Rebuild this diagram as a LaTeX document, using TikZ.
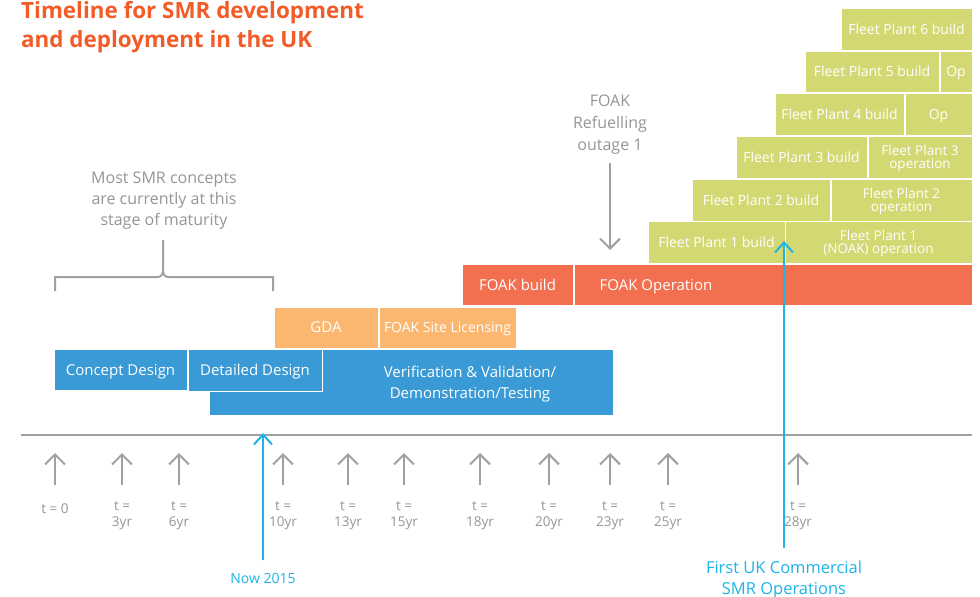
\documentclass[tikz,border=0pt]{standalone}
\usepackage{fontspec}
\setmainfont{Open Sans}
\usetikzlibrary{arrows.meta,calc}
\definecolor{cblue}{RGB}{58,154,214}
\definecolor{clorange}{RGB}{251,183,111}
\definecolor{cred}{RGB}{242,112,80}
\definecolor{cgreen}{RGB}{211,216,115}
\definecolor{ctitle}{RGB}{241,92,40}
\definecolor{cgtext}{RGB}{150,150,152}
\definecolor{cgline}{RGB}{160,160,164}
\definecolor{ccyan}{RGB}{30,180,232}
\tikzset{
  blk/.style={draw=white, line width=1pt, text=white, inner sep=0pt, align=center,
    text depth=0pt, font=\fontsize{15}{17}\selectfont},
  gblk/.style={blk, font=\fontsize{14}{16}\selectfont},
  g2blk/.style={blk, font=\fontsize{13.5}{12.5}\selectfont},
  gtxt/.style={text=cgtext, align=center, inner sep=0pt},
  tlbl/.style={gtxt, font=\fontsize{13.5}{16}\selectfont},
  garr/.style={draw=cgline, line width=2pt, -{Straight Barb[length=10pt,width=20pt,line width=2pt]}},
  carr/.style={draw=ccyan, line width=2pt, -{Straight Barb[length=10pt,width=18pt,line width=2pt]}},
  ctxt/.style={text=ccyan, align=center, inner sep=0pt},
}
\newcommand\blk[8]{\node[#6, fill=#7, minimum width={(#4-#2)*1pt}, minimum height={(#5-#3)*1pt}] (#1) at ({(#2+#4)/2},{(#3+#5)/2}) {#8};}
\begin{document}
\begin{tikzpicture}[x=1pt,y=-1pt]
\useasboundingbox[fill=white] (0,0) rectangle (980,597);
% title
\node[anchor=base west, inner sep=0pt, text=ctitle, font=\fontsize{22.4}{28}\selectfont\bfseries] (title1) at (21,19) {Timeline for SMR development};
\node[anchor=base west, inner sep=0pt, text=ctitle, font=\fontsize{22.4}{28}\selectfont\bfseries] (title2) at (21,47) {and deployment in the UK};
% blue blocks
\blk{vv}{209}{349}{613}{415}{blk}{cblue}{}
\node[blk, fill=none, draw=none, text depth=] (vvtxt) at (470,384) {Verification \& Validation/\\[4pt]Demonstration/Testing};
\blk{concept}{54}{349}{187}{390}{blk}{cblue}{Concept Design}
\blk{detailed}{188}{349}{322}{391}{blk}{cblue}{Detailed Design}
% orange blocks
\blk{gda}{274}{307}{378}{348}{blk}{clorange}{GDA}
\blk{site}{379}{307}{516}{348}{gblk}{clorange}{FOAK Site Licensing}
% red blocks
\blk{foakb}{462}{264}{573}{305}{blk}{cred}{FOAK build}
\blk{foako}{574}{264}{972}{305}{blk}{cred}{}
\node[blk, draw=none] (foakotxt) at (656,285) {FOAK Operation};
% green blocks
\blk{fp1b}{648}{221}{785}{263}{gblk}{cgreen}{Fleet Plant 1 build}
\blk{fp1o}{785}{221}{972}{263}{g2blk}{cgreen}{Fleet Plant 1\\(NOAK) operation}
\blk{fp2b}{692}{179}{830}{221}{gblk}{cgreen}{Fleet Plant 2 build}
\blk{fp2o}{831}{179}{972}{221}{g2blk}{cgreen}{Fleet Plant 2\\operation}
\blk{fp3b}{736}{136}{867}{178}{gblk}{cgreen}{Fleet Plant 3 build}
\blk{fp3o}{868}{136}{972}{178}{g2blk}{cgreen}{Fleet Plant 3\\operation}
\blk{fp4b}{775}{93}{904}{135}{gblk}{cgreen}{Fleet Plant 4 build}
\blk{fp4o}{905}{93}{972}{135}{gblk}{cgreen}{Op}
\blk{fp5b}{805}{51}{939}{92}{gblk}{cgreen}{Fleet Plant 5 build}
\blk{fp5o}{940}{51}{972}{92}{gblk}{cgreen}{Op}
\blk{fp6b}{841}{8}{972}{50}{gblk}{cgreen}{Fleet Plant 6 build}
% brace and note
\node[gtxt, font=\fontsize{16}{21}\selectfont] (most) at (164,201) {Most SMR concepts\\are currently at this\\stage of maturity};
\draw[cgline, line width=2pt] (55,291) -- (55,277) -- (157,277) .. controls (161,277) and (163,275) .. (163,270) -- (163,240);
\draw[cgline, line width=2pt] (273,291) -- (273,277) -- (169,277) .. controls (165,277) and (163,275) .. (163,270);
% refuelling
\node[gtxt, font=\fontsize{16}{22}\selectfont] (refuel) at (610,125) {FOAK\\Refuelling\\outage 1};
\coordinate (refA) at (610,163);
\coordinate (refB) at (610,250);
\draw[garr] (refA) -- (refB);
% axis
\coordinate (axL) at (21,435);
\coordinate (axR) at (972,435);
\draw[cgline, line width=2pt] (axL) -- (axR);
% time labels
\coordinate (abot) at (0,485);
\coordinate (atop) at (0,453);
\node[tlbl] (t0) at (55,509) {t = 0};
\node[tlbl] (t3) at (122,516) {t =\\3yr};
\node[tlbl] (t6) at (179,516) {t =\\6yr};
\node[tlbl] (t10) at (283,516) {t =\\10yr};
\node[tlbl] (t13) at (348,516) {t =\\13yr};
\node[tlbl] (t15) at (404,516) {t =\\15yr};
\node[tlbl] (t18) at (480,516) {t =\\18yr};
\node[tlbl] (t20) at (549,516) {t =\\20yr};
\node[tlbl] (t23) at (610,516) {t =\\23yr};
\node[tlbl] (t25) at (668,516) {t =\\25yr};
\node[tlbl] (t28) at (798,516) {t =\\28yr};
\foreach \n in {t0,t3,t6,t10,t13,t15,t18,t20,t23,t25,t28}
  \draw[garr] (\n |- abot) -- (\n |- atop);
% cyan markers
\node[ctxt, font=\fontsize{14}{16}\selectfont] (now) at (263,578) {Now 2015};
\coordinate (nowA) at (263,560);
\coordinate (nowB) at (263,433);
\draw[carr] (nowA) -- (nowB);
\node[ctxt, font=\fontsize{16.5}{21}\selectfont] (first) at (784,580) {First UK Commercial\\SMR Operations};
\coordinate (firstA) at (784,548);
\coordinate (firstB) at (784,241);
\draw[carr] (firstA) -- (firstB);
\end{tikzpicture}
\end{document}
